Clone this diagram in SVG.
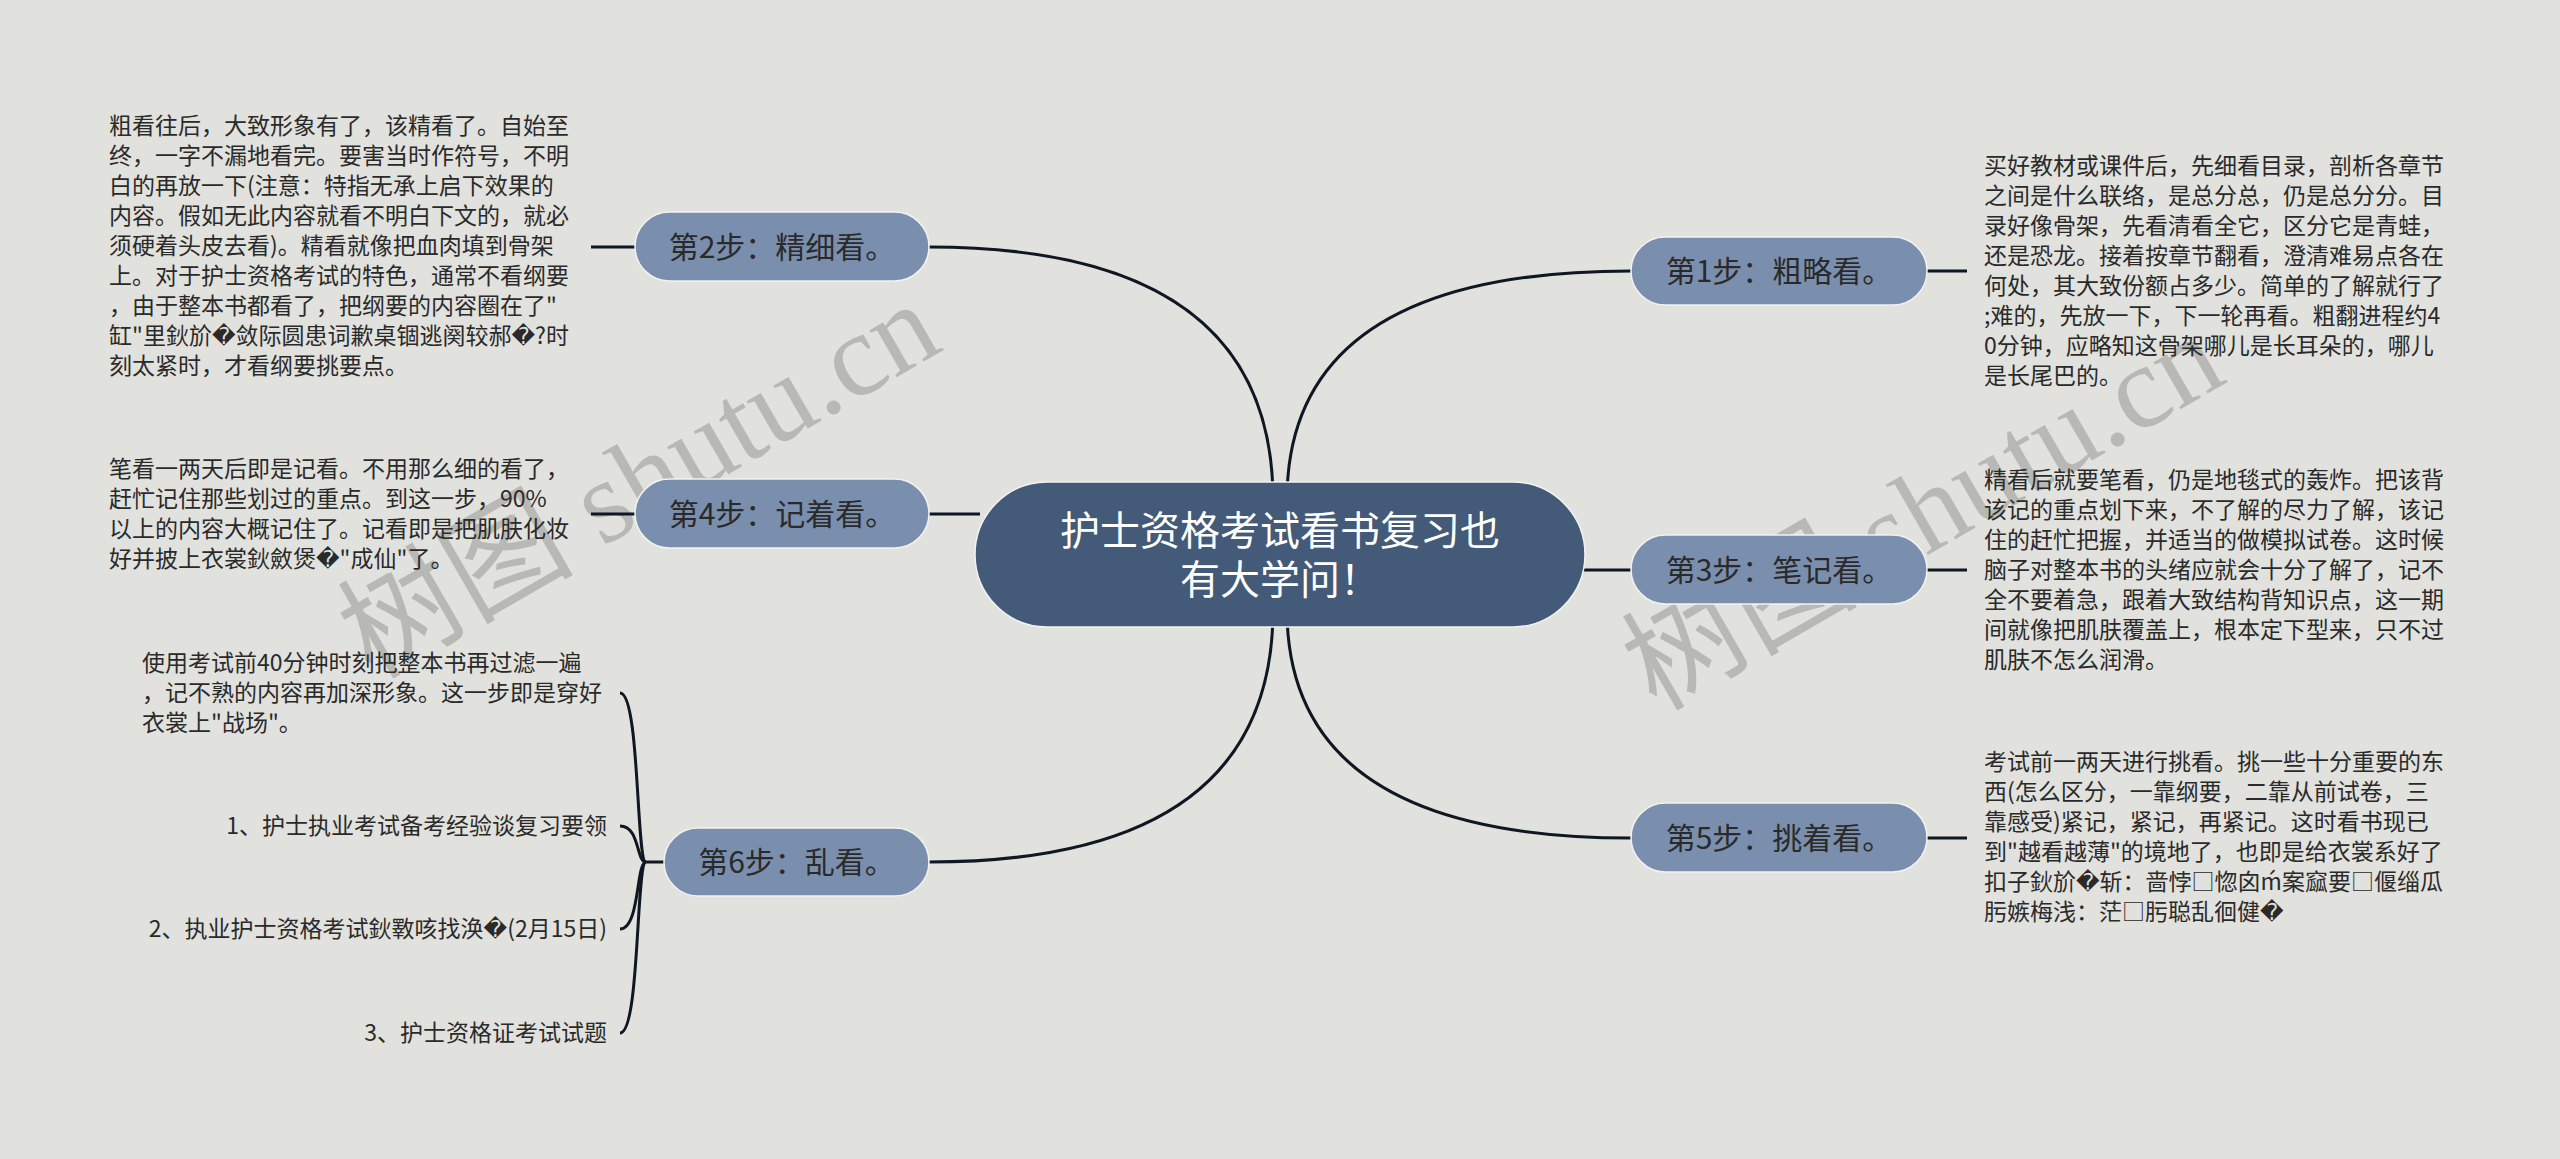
<svg xmlns="http://www.w3.org/2000/svg" width="2560" height="1159" viewBox="0 0 2560 1159">
<style>
.bg{fill:#e1e1dd}
.wm{font-family:"Liberation Serif","Noto Sans CJK SC",serif;font-size:118px;fill:#b8b8b4}
.cn{fill:#435a78;stroke:#f2f2f2;stroke-width:1.5}
.ct{font-family:"Noto Sans CJK SC",sans-serif;font-size:40px;fill:#ffffff;text-anchor:middle}
.sn{fill:#7a8fad;stroke:#f2f2f2;stroke-width:1.5}
.st{font-family:"Noto Sans CJK SC",sans-serif;font-size:30px;fill:#2a2a2a;text-anchor:middle}
.tx{font-family:"Noto Sans CJK SC","DejaVu Sans",sans-serif;font-size:23px;fill:#2a2a2a}
.ra{text-anchor:end}
.ln{fill:none;stroke:#0f1722;stroke-width:3}
</style>
<rect class="bg" x="0" y="0" width="2560" height="1159"/>
<g id="watermarks">
<text class="wm" transform="translate(372,680) rotate(-30)">树图 shutu.cn</text>
<text class="wm" transform="translate(1656,712) rotate(-30)">树图 shutu.cn</text>
</g>
<g id="connectors">
<path class="ln" d="M929 247 Q1273 247 1273 500"/>
<path class="ln" d="M1287 500 Q1287 271 1631 271"/>
<path class="ln" d="M929 514 H980"/>
<path class="ln" d="M1580 570 H1631"/>
<path class="ln" d="M929 862 Q1273 862 1273 610"/>
<path class="ln" d="M1287 610 Q1287 838 1631 838"/>
<path class="ln" d="M591 247 H635"/>
<path class="ln" d="M591 514 H635"/>
<path class="ln" d="M1927 271 H1967"/>
<path class="ln" d="M1927 570 H1967"/>
<path class="ln" d="M1927 838 H1967"/>
<path class="ln" d="M664 862 H646"/>
<path class="ln" d="M646 862 C636 862 640 693 620 693"/>
<path class="ln" d="M646 862 C636 862 640 826 620 826"/>
<path class="ln" d="M646 862 C636 862 640 929 620 929"/>
<path class="ln" d="M646 862 C636 862 640 1033 620 1033"/>
</g>
<g id="center">
<rect class="cn" x="975" y="482" width="610" height="145" rx="72.5"/>
<text class="ct" x="1280" y="545">护士资格考试看书复习也</text>
<text class="ct" x="1280" y="594">有大学问！</text>
</g>
<g id="step1">
<rect class="sn" x="1631" y="237" width="296" height="68" rx="34"/>
<text class="st" x="1779" y="282">第1步：粗略看。</text>
</g>
<g id="step1-text">
<text class="tx" x="1984" y="174">买好教材或课件后，先细看目录，剖析各章节</text>
<text class="tx" x="1984" y="204">之间是什么联络，是总分总，仍是总分分。目</text>
<text class="tx" x="1984" y="234">录好像骨架，先看清看全它，区分它是青蛙，</text>
<text class="tx" x="1984" y="264">还是恐龙。接着按章节翻看，澄清难易点各在</text>
<text class="tx" x="1984" y="294">何处，其大致份额占多少。简单的了解就行了</text>
<text class="tx" x="1984" y="324">;难的，先放一下，下一轮再看。粗翻进程约4</text>
<text class="tx" x="1984" y="354">0分钟，应略知这骨架哪儿是长耳朵的，哪儿</text>
<text class="tx" x="1984" y="384">是长尾巴的。</text>
</g>
<g id="step2">
<rect class="sn" x="635" y="212" width="294" height="69" rx="34.5"/>
<text class="st" x="782" y="258">第2步：精细看。</text>
</g>
<g id="step2-text">
<text class="tx" x="109" y="134">粗看往后，大致形象有了，该精看了。自始至</text>
<text class="tx" x="109" y="164">终，一字不漏地看完。要害当时作符号，不明</text>
<text class="tx" x="109" y="194">白的再放一下(注意：特指无承上启下效果的</text>
<text class="tx" x="109" y="224">内容。假如无此内容就看不明白下文的，就必</text>
<text class="tx" x="109" y="254">须硬着头皮去看)。精看就像把血肉填到骨架</text>
<text class="tx" x="109" y="284">上。对于护士资格考试的特色，通常不看纲要</text>
<text class="tx" x="109" y="314">，由于整本书都看了，把纲要的内容圈在了"</text>
<text class="tx" x="109" y="344">缸"里鈥斺�敛际圆患词歉桌锢逃阕较郝�?时</text>
<text class="tx" x="109" y="374">刻太紧时，才看纲要挑要点。</text>
</g>
<g id="step3">
<rect class="sn" x="1631" y="535" width="296" height="69" rx="34.5"/>
<text class="st" x="1779" y="581">第3步：笔记看。</text>
</g>
<g id="step3-text">
<text class="tx" x="1984" y="488">精看后就要笔看，仍是地毯式的轰炸。把该背</text>
<text class="tx" x="1984" y="518">该记的重点划下来，不了解的尽力了解，该记</text>
<text class="tx" x="1984" y="548">住的赶忙把握，并适当的做模拟试卷。这时候</text>
<text class="tx" x="1984" y="578">脑子对整本书的头绪应就会十分了解了，记不</text>
<text class="tx" x="1984" y="608">全不要着急，跟着大致结构背知识点，这一期</text>
<text class="tx" x="1984" y="638">间就像把肌肤覆盖上，根本定下型来，只不过</text>
<text class="tx" x="1984" y="668">肌肤不怎么润滑。</text>
</g>
<g id="step4">
<rect class="sn" x="635" y="479" width="294" height="69" rx="34.5"/>
<text class="st" x="782" y="525">第4步：记着看。</text>
</g>
<g id="step4-text">
<text class="tx" x="109" y="477">笔看一两天后即是记看。不用那么细的看了，</text>
<text class="tx" x="109" y="507">赶忙记住那些划过的重点。到这一步，90%</text>
<text class="tx" x="109" y="537">以上的内容大概记住了。记看即是把肌肤化妆</text>
<text class="tx" x="109" y="567">好并披上衣裳鈥斂煲�"成仙"了。</text>
</g>
<g id="step5">
<rect class="sn" x="1631" y="803" width="296" height="69" rx="34.5"/>
<text class="st" x="1779" y="849">第5步：挑着看。</text>
</g>
<g id="step5-text">
<text class="tx" x="1984" y="770">考试前一两天进行挑看。挑一些十分重要的东</text>
<text class="tx" x="1984" y="800">西(怎么区分，一靠纲要，二靠从前试卷，三</text>
<text class="tx" x="1984" y="830">靠感受)紧记，紧记，再紧记。这时看书现已</text>
<text class="tx" x="1984" y="860">到"越看越薄"的境地了，也即是给衣裳系好了</text>
<text class="tx" x="1984" y="890">扣子鈥斺�斩：啬悖□惚囟ḿ案窳要□偃缁瓜</text>
<text class="tx" x="1984" y="920">肟嫉梅浅：茫□肟聪乱徊健�</text>
</g>
<g id="step6">
<rect class="sn" x="664" y="828" width="265" height="68" rx="34"/>
<text class="st" x="796.5" y="873">第6步：乱看。</text>
</g>
<g id="step6-text">
<text class="tx" x="142" y="671">使用考试前40分钟时刻把整本书再过滤一遍</text>
<text class="tx" x="142" y="701">，记不熟的内容再加深形象。这一步即是穿好</text>
<text class="tx" x="142" y="731">衣裳上"战场"。</text>
</g>
<g id="step6-child1"><text class="tx ra" x="607" y="834">1、护士执业考试备考经验谈复习要领</text></g>
<g id="step6-child2"><text class="tx ra" x="607" y="937">2、执业护士资格考试鈥斁咳找涣�(2月15日)</text></g>
<g id="step6-child3"><text class="tx ra" x="607" y="1041">3、护士资格证考试试题</text></g>
</svg>
